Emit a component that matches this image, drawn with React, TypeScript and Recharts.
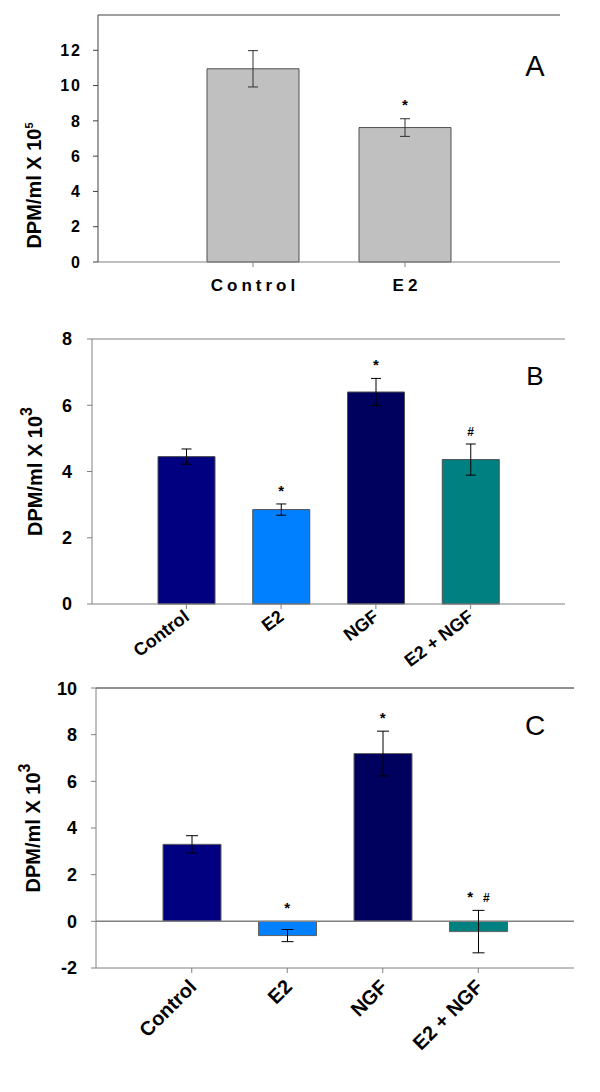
import React from 'react';
import {
  ComposedChart, Bar, Cell, ErrorBar, Line, XAxis, YAxis, ReferenceLine,
} from 'recharts';

const FONT = '"Liberation Sans", Arial, Helvetica, sans-serif';

// panel A
const A_GROUPS = ['Control', 'E2'];
const A_VALUES = [10.95, 7.62];
const A_ERRORS = [1.03, 0.5];
const A_MARKS = ['', '*'];
const A_TICKS = [0, 2, 4, 6, 8, 10, 12];

// panel B
const B_GROUPS = ['Control', 'E2', 'NGF', 'E2 + NGF'];
const B_VALUES = [4.45, 2.85, 6.4, 4.36];
const B_ERRORS = [0.23, 0.17, 0.41, 0.47];
const B_MARKS = ['', '*', '*', '#'];
const B_TICKS = [0, 2, 4, 6, 8];

// panel C
const C_GROUPS = ['Control', 'E2', 'NGF', 'E2 + NGF'];
const C_VALUES = [3.3, -0.61, 7.19, -0.44];
const C_ERRORS = [0.37, 0.26, 0.96, 0.91];
const C_MARKS = ['', '*', '*', '* #'];
const C_TICKS = [-2, 0, 2, 4, 6, 8, 10];

const GROUP_COLORS = ['#000080', '#0080FF', '#00005E', '#008080'];

function rows(groups: string[], values: number[], errors: number[], marks: string[]) {
  return groups.map((name, i) => ({
    name,
    value: values[i],
    err: errors[i],
    mark: marks[i],
    markAt: Math.max(values[i] + errors[i], 0),
  }));
}

const dataA = rows(A_GROUPS, A_VALUES, A_ERRORS, A_MARKS);
const dataB = rows(B_GROUPS, B_VALUES, B_ERRORS, B_MARKS);
const dataC = rows(C_GROUPS, C_VALUES, C_ERRORS, C_MARKS);

function yTick(size: number, spacing = 0) {
  return (p: any) => {
    const { x, y, payload } = p;
    return (
      <text x={x} y={y} dy="0.36em" textAnchor="end" fontSize={size} fontWeight="bold"
        fontFamily={FONT} letterSpacing={spacing} fill="#000">
        {payload.value}
      </text>
    );
  };
}

function markDot(gap: number) {
  return (p: any) => {
    const { cx, cy, payload, index } = p;
    if (!payload.mark) return <g key={`m${index}`} />;
    const parts = payload.mark.split(' ');
    return (
      <g key={`m${index}`}>
        {parts.map((s: string, j: number) => (
          <text
            key={j}
            x={cx + (j - (parts.length - 1) / 2) * 16}
            y={cy - gap}
            textAnchor="middle"
            fontSize={s === '#' ? 12 : 15}
            fontWeight="bold"
            fontFamily={FONT}
            fill="#000"
          >
            {s}
          </text>
        ))}
      </g>
    );
  };
}

function yLabel(sup: string, baseX: number, dy: number, supSize: number, supRise: number) {
  return (props: any) => {
    const { viewBox } = props;
    const cy = viewBox.y + viewBox.height / 2 + dy;
    return (
      <text
        x={baseX}
        y={cy}
        transform={`rotate(-90, ${baseX}, ${cy})`}
        textAnchor="middle"
        fontSize={20}
        fontWeight="bold"
        fontFamily={FONT}
        fill="#000"
      >
        DPM/ml X 10
        <tspan dy={-supRise} fontSize={supSize}>{sup}</tspan>
      </text>
    );
  };
}

function tickA(p: any) {
  const { x, y, payload } = p;
  return (
    <text x={x + 2} y={y + 24} textAnchor="middle" fontSize={17} fontWeight="bold"
      fontFamily={FONT} letterSpacing={4} fill="#000">
      {payload.value}
    </text>
  );
}

function angledTick(angle: number, dx: number, dy: number, size: number) {
  return (p: any) => {
    const { x, y, payload } = p;
    return (
      <g transform={`translate(${x + dx},${y + dy})`}>
        <text x={0} y={0} textAnchor="end" transform={`rotate(${angle})`} fontSize={size}
          fontWeight="bold" fontFamily={FONT} fill="#000">
          {payload.value}
        </text>
      </g>
    );
  };
}

function PanelLetter({ x, y, size, children }: any) {
  return (
    <text x={x} y={y} textAnchor="middle" fontSize={size} fontFamily={FONT} fill="#000">
      {children}
    </text>
  );
}

export default function App() {
  return (
    <div style={{ position: 'absolute', left: 0, top: 0, width: 600, height: 1092, background: '#fff' }}>
      {/* A */}
      <div style={{ position: 'absolute', left: 0, top: 0 }}>
        <ComposedChart width={600} height={300} data={dataA}
          margin={{ top: 15, right: 40, bottom: 0, left: 0 }}>
          <XAxis dataKey="name" height={38} padding={{ left: 79, right: 79 }}
            stroke="#808080" tickSize={5} tickMargin={0} tick={tickA} />
          <YAxis domain={[0, 14]} ticks={A_TICKS} width={98} stroke="#404040"
            tickSize={5} tickMargin={11} tick={yTick(16, 2)}
            label={{ content: yLabel('5', 40.5, 47, 11, 8) }} />
          <YAxis yAxisId="right" orientation="right" width={0} stroke="#404040"
            tick={false} tickLine={false} />
          <ReferenceLine y={14} stroke="#404040" strokeWidth={1} />
          <Bar dataKey="value" barSize={92} fill="#C0C0C0" stroke="#505050"
            strokeWidth={1} isAnimationActive={false}>
            <ErrorBar dataKey="err" width={5} stroke="#303030" strokeWidth={1} />
          </Bar>
          <Line dataKey="markAt" stroke="none" dot={markDot(9)} activeDot={false}
            isAnimationActive={false} />
        </ComposedChart>
      </div>

      {/* B */}
      <div style={{ position: 'absolute', left: 0, top: 320 }}>
        <ComposedChart width={600} height={360} data={dataB}
          margin={{ top: 19, right: 35, bottom: 0, left: 0 }}>
          <XAxis dataKey="name" height={76} padding={{ left: 47, right: 47 }}
            stroke="#808080" tickSize={5} tickMargin={0} interval={0}
            tick={angledTick(-37, 4, 10, 18)} />
          <YAxis domain={[0, 8]} ticks={B_TICKS} width={92} stroke="#808080"
            tickSize={5} tickMargin={15} tick={yTick(18)}
            label={{ content: yLabel('3', 42, 0, 16, 10) }} />
          <YAxis yAxisId="right" orientation="right" width={0} stroke="#808080"
            tick={false} tickLine={false} />
          <ReferenceLine y={8} stroke="#808080" strokeWidth={1} />
          <Bar dataKey="value" barSize={57} stroke="#505050" strokeWidth={1}
            isAnimationActive={false}>
            {dataB.map((d, i) => <Cell key={d.name} fill={GROUP_COLORS[i]} />)}
            <ErrorBar dataKey="err" width={5} stroke="#000" strokeWidth={1} />
          </Bar>
          <Line dataKey="markAt" stroke="none" dot={markDot(8)} activeDot={false}
            isAnimationActive={false} />
        </ComposedChart>
      </div>

      {/* C */}
      <div style={{ position: 'absolute', left: 0, top: 680 }}>
        <ComposedChart width={600} height={412} data={dataC}
          margin={{ top: 8, right: 26, bottom: 0, left: 0 }}>
          <XAxis dataKey="name" height={124} padding={{ left: 48, right: 48 }}
            stroke="#808080" tickSize={5} tickMargin={0} interval={0}
            tick={angledTick(-45, 6, 15, 20)} />
          <YAxis domain={[-2, 10]} ticks={C_TICKS} width={96} stroke="#808080"
            tickSize={5} tickMargin={14} tick={yTick(18)}
            label={{ content: yLabel('3', 40, 0, 16, 10) }} />
          <YAxis yAxisId="right" orientation="right" width={0} stroke="#202020"
            tick={false} tickLine={false} />
          <ReferenceLine y={10} stroke="#202020" strokeWidth={1} />
          <ReferenceLine y={0} stroke="#808080" strokeWidth={1.5} />
          <Bar dataKey="value" barSize={58} stroke="#606060" strokeWidth={1}
            isAnimationActive={false}>
            {dataC.map((d, i) => <Cell key={d.name} fill={GROUP_COLORS[i]} />)}
            <ErrorBar dataKey="err" width={6} stroke="#000" strokeWidth={1} />
          </Bar>
          <Line dataKey="markAt" stroke="none" dot={markDot(8)} activeDot={false}
            isAnimationActive={false} />
        </ComposedChart>
      </div>

      <svg width={600} height={1092} style={{ position: 'absolute', left: 0, top: 0, pointerEvents: 'none' }}>
        <PanelLetter x={535} y={76} size={29}>A</PanelLetter>
        <PanelLetter x={535} y={385} size={26}>B</PanelLetter>
        <PanelLetter x={535} y={735} size={28}>C</PanelLetter>
      </svg>
    </div>
  );
}
